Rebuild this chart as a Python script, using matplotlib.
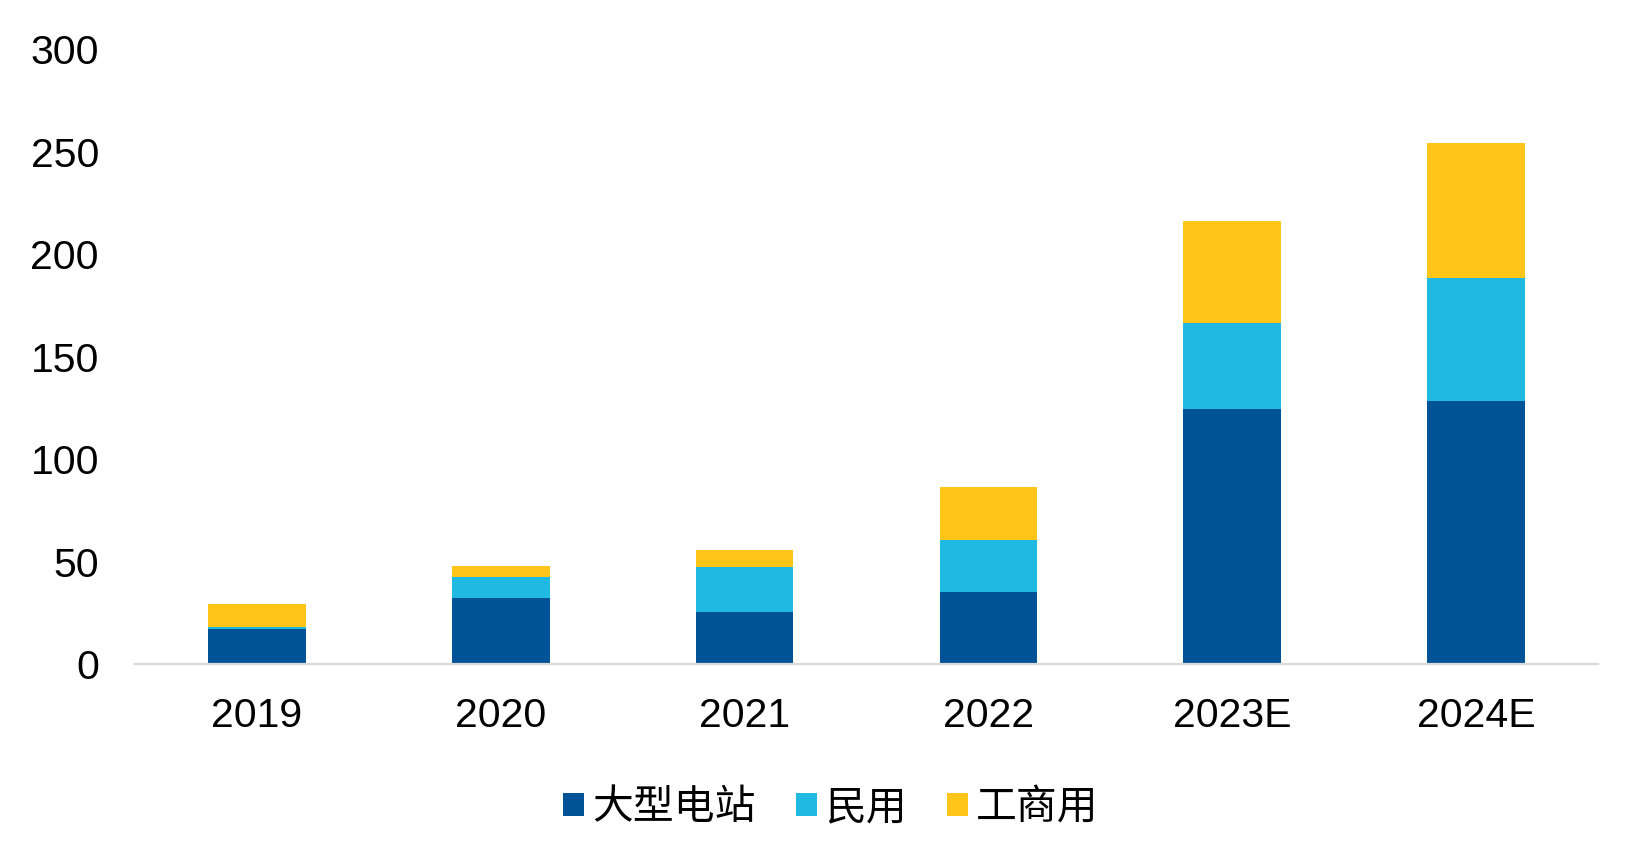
import matplotlib
matplotlib.use("Agg")
import matplotlib.pyplot as plt
import numpy as np

categories = ["2019", "2020", "2021", "2022", "2023E", "2024E"]
large_station = [17.2, 32.2, 25.5, 35.2, 124.4, 128.4]
residential = [1.0, 10.3, 22.0, 25.2, 41.9, 60.0]
commercial = [11.2, 5.1, 8.2, 26.0, 49.8, 66.0]
series_names = ["大型电站", "民用", "工商用"]
colors = ["#005396", "#1FB9E1", "#FFC619"]
yticks = [0, 50, 100, 150, 200, 250, 300]

plt.rcParams['font.family'] = ['Liberation Sans', 'Noto Sans CJK SC', 'DejaVu Sans']

W, H = 1650, 867
fig = plt.figure(figsize=(W / 100, H / 100), dpi=100)
ax = fig.add_axes([135 / W, 1 - 664 / H, (1598 - 135) / W, (664 - 49.5) / H])

x = np.arange(len(categories))
bw = 0.40
bottom = np.zeros(len(categories))
for name, vals, c in zip(series_names, [large_station, residential, commercial], colors):
    ax.bar(x, vals, bw, bottom=bottom, color=c, label=name, zorder=2)
    bottom = bottom + np.array(vals)

ax.set_xlim(-0.5, len(categories) - 0.5)
ax.set_ylim(0, 300)
ax.set_yticks(yticks)
ax.set_yticklabels([str(v) for v in yticks])
ax.set_xticks(x)
ax.set_xticklabels(categories)
ax.tick_params(axis='both', length=0, labelsize=29.5, colors='black')
ax.tick_params(axis='y', pad=26)
ax.tick_params(axis='x', pad=24)
for s in ['top', 'right', 'left']:
    ax.spines[s].set_visible(False)
ax.spines['bottom'].set_color('#d9d9d9')
ax.spines['bottom'].set_linewidth(1.6)
ax.spines['bottom'].set_zorder(3)

leg = fig.legend(loc='center', bbox_to_anchor=(831 / W, 1 - 808 / H), ncol=3, frameon=False,
                 fontsize=29.4, handlelength=0.5, handleheight=0.5, handletextpad=0.2,
                 columnspacing=1.0, borderpad=0, borderaxespad=0)

fig.savefig("out.png", dpi=100)
